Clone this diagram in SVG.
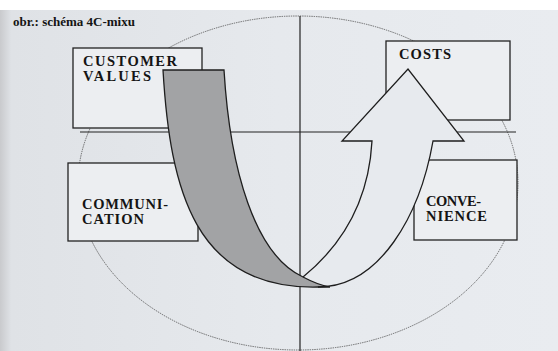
<svg xmlns="http://www.w3.org/2000/svg" width="558" height="351" viewBox="0 0 558 351">
  <style>
    .box { fill: #eceef1; stroke: #222; stroke-width: 1.3; }
    .lbl { font-family: "Liberation Serif", "Times New Roman", serif; font-weight: bold; font-size: 14.5px; fill: #141414; }
    .axis { stroke: #222; stroke-width: 1.2; fill: none; }
    .edge { stroke: #1e1e1e; stroke-width: 1.3; fill: none; stroke-linejoin: miter; }
  </style>
  <defs>
    <linearGradient id="page" x1="0" y1="0" x2="1" y2="0">
      <stop offset="0" stop-color="#c9cacd"/>
      <stop offset="0.02" stop-color="#dfe2e6"/>
      <stop offset="0.5" stop-color="#e6e9ed"/>
      <stop offset="1" stop-color="#e9ecf0"/>
    </linearGradient>
  </defs>

  <!-- page -->
  <rect x="0" y="0" width="558" height="351" fill="url(#page)"/>
  <rect x="0" y="0" width="558" height="10" fill="#ffffff"/>

  <text x="13" y="26" font-family="Liberation Serif, serif" font-weight="bold" font-size="13" fill="#141414">obr.: schéma 4C-mixu</text>

  <!-- frame: ellipse and axes -->
  <g id="connectors">
    <ellipse cx="298" cy="183" rx="220" ry="167" fill="none" stroke="#4a4a4a" stroke-width="0.8" stroke-dasharray="1.4 0.9"/>
    <line class="axis" x1="300" y1="16" x2="300" y2="351"/>
    <line class="axis" x1="80" y1="132" x2="516" y2="132"/>
  </g>

  <!-- quadrant boxes -->
  <g id="customer-values">
    <rect class="box" x="73" y="48" width="129" height="80"/>
    <text class="lbl" x="83" y="65.5" textLength="94" lengthAdjust="spacing">CUSTOMER</text>
    <text class="lbl" x="83" y="81" textLength="68" lengthAdjust="spacing">VALUES</text>
  </g>
  <g id="costs">
    <rect class="box" x="386" y="41" width="124" height="79"/>
    <text class="lbl" x="399" y="59" textLength="52" lengthAdjust="spacing">COSTS</text>
  </g>
  <g id="communication">
    <rect class="box" x="68" y="163" width="130" height="78"/>
    <text class="lbl" x="82" y="209" textLength="86" lengthAdjust="spacing">COMMUNI-</text>
    <text class="lbl" x="82" y="224" textLength="62" lengthAdjust="spacing">CATION</text>
  </g>
  <g id="convenience">
    <rect class="box" x="414" y="160" width="103" height="80"/>
    <text class="lbl" x="426" y="206" textLength="55" lengthAdjust="spacing">CONVE-</text>
    <text class="lbl" x="426" y="221" textLength="61" lengthAdjust="spacing">NIENCE</text>
  </g>

  <!-- U-shaped flow: grey band down from values, hollow arrow up to costs -->
  <g id="arrow">
    <path d="M303,277 C330,255 368,215 372,141 L342,141 L408,69 L464,141 L433,141 C420,215 380,287 318,287 Z" fill="#e7eaee" stroke="none"/>
  </g>
  <g id="band">
    <path d="M163,70 H224 C230,170 255,255 303,277 Q318,285 330,287 L318,287 C195,290 170,190 163,70 Z" fill="#a2a3a5" stroke="#1e1e1e" stroke-width="1.3"/>
  </g>
  <g id="arrow-outline">
    <path class="edge" d="M303,277 C330,255 368,215 372,141 L342,141 L408,69 L464,141 L433,141 C420,215 380,287 318,287"/>
  </g>
</svg>
